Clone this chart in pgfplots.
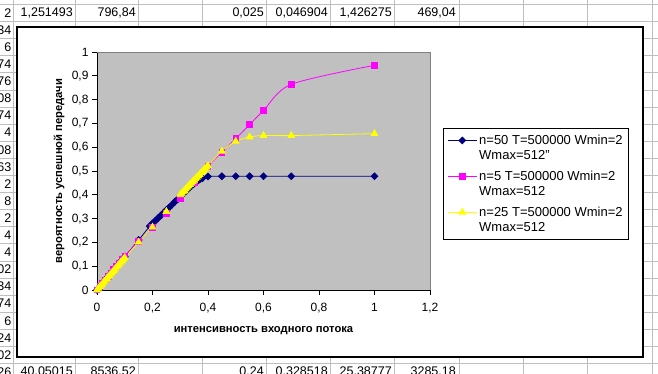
\documentclass[border=0pt]{standalone}
\usepackage{fontspec}
\setmainfont{Liberation Sans}
\usepackage{pgfplots}
\pgfplotsset{compat=1.18}
\definecolor{plotgray}{RGB}{192,192,192}
\definecolor{gridgray}{RGB}{190,190,190}
\definecolor{bordergray}{RGB}{128,128,128}
\definecolor{xnavy}{RGB}{0,0,128}
\definecolor{xmag}{RGB}{255,0,255}
\definecolor{xyel}{RGB}{255,255,0}
\newcommand\cellfont{\fontsize{12.5}{13}\selectfont}
\begin{document}
\begin{tikzpicture}[x=1pt,y=1pt]
\path[use as bounding box] (0pt,0pt) rectangle (658pt,374pt);
\fill[white] (0pt,0pt) rectangle (658pt,374pt);
% spreadsheet grid
\foreach \k in {0,...,21} {\draw[gridgray, line width=0.8pt] (0pt,{374pt-4.5pt-17.1pt*\k}) -- (658pt,{374pt-4.5pt-17.1pt*\k});}
\foreach \x in {13,75,138,202,266,330,394,459,523,587,652} {\draw[gridgray, line width=0.8pt] (\x pt,0pt) -- (\x pt,374pt);}
% left column fragments
\foreach \v [count=\i from 0] in {2,34,6,74,76,08,74,4,08,63,2,8,2,4,4,02,34,74,6,24,02,26}
  {\node[anchor=east, inner sep=0pt, font=\cellfont] at (11.5pt,{374pt-13pt-17.1pt*\i}) {\v};}
% top row
\node[anchor=east, inner sep=0pt, font=\cellfont] at (73pt,361pt) {1,251493};
\node[anchor=east, inner sep=0pt, font=\cellfont] at (136pt,361pt) {796,84};
\node[anchor=east, inner sep=0pt, font=\cellfont] at (264pt,361pt) {0,025};
\node[anchor=east, inner sep=0pt, font=\cellfont] at (328pt,361pt) {0,046904};
\node[anchor=east, inner sep=0pt, font=\cellfont] at (392pt,361pt) {1,426275};
\node[anchor=east, inner sep=0pt, font=\cellfont] at (456pt,361pt) {469,04};
% bottom row
\node[anchor=east, inner sep=0pt, font=\cellfont] at (73pt,2pt) {40,05015};
\node[anchor=east, inner sep=0pt, font=\cellfont] at (136pt,2pt) {8536,52};
\node[anchor=east, inner sep=0pt, font=\cellfont] at (264pt,2pt) {0,24};
\node[anchor=east, inner sep=0pt, font=\cellfont] at (328pt,2pt) {0,328518};
\node[anchor=east, inner sep=0pt, font=\cellfont] at (392pt,2pt) {25,38777};
\node[anchor=east, inner sep=0pt, font=\cellfont] at (456pt,2pt) {3285,18};
% chart frame
\draw[black, line width=1.3pt, fill=white] (17pt,347pt) rectangle (643pt,17pt);
\begin{axis}[
  at={(97pt,84pt)}, anchor=south west, scale only axis,
  width=333pt, height=238pt,
  xmin=0, xmax=1.2, ymin=0, ymax=1,
  axis lines=left, axis line style={-, line width=0.8pt, black},
  axis background/.style={fill=plotgray},
  xtick={0,0.2,0.4,0.6,0.8,1,1.2},
  ytick={0,0.1,0.2,0.3,0.4,0.5,0.6,0.7,0.8,0.9,1},
  tick align=outside, major tick length=5pt,
  tick style={black, line width=0.8pt},
  /pgf/number format/use comma,
  /pgf/number format/assume math mode=true,
  ticklabel style={font=\fontsize{12}{12}\selectfont},
  xticklabel style={yshift=-5pt},
  xlabel={интенсивность входного потока},
  ylabel={вероятность успешной передачи},
  label style={font=\fontsize{11.2}{12}\selectfont\bfseries},
  x label style={at={([yshift=-41pt]axis description cs:0.5,0)}, anchor=center},
  y label style={at={([xshift=-38pt]axis description cs:0,0.5)}, anchor=center},
  clip=false,
  legend style={at={(rel axis cs:1.039,0.68)}, anchor=north west,
    draw=black, line width=0.8pt, fill=white,
    font=\fontsize{13}{14.5}\selectfont,
    cells={anchor=base west, align=left, inner xsep=1pt, inner ysep=1pt},
    inner xsep=4pt, inner ysep=5pt, row sep=6.5pt},
  legend image code/.code={\draw[mark repeat=2,mark phase=2,#1] plot coordinates {(0pt,19pt) (14.5pt,19pt) (29pt,19pt)};},
]
\draw[bordergray, line width=0.8pt] (rel axis cs:0,1) -- (rel axis cs:1,1) -- (rel axis cs:1,0);
% n=50
\addplot[xnavy, line width=0.8pt, smooth, mark=square*, mark size=2.4pt, mark options={rotate=45, fill=xnavy, draw=xnavy}] coordinates {
(0,0) (0.01,0.014) (0.02,0.028) (0.03,0.042) (0.04,0.056) (0.05,0.07) (0.06,0.084) (0.07,0.098) (0.08,0.112) (0.09,0.126) (0.1,0.14)
(0.15,0.21)
(0.19,0.268) (0.2,0.28) (0.21,0.291) (0.22,0.302) (0.23,0.313) (0.24,0.325) (0.25,0.336) (0.26,0.347) (0.27,0.358) (0.28,0.37) (0.29,0.381)
(0.3,0.393) (0.31,0.404) (0.32,0.415) (0.33,0.426) (0.34,0.437) (0.35,0.447) (0.36,0.456) (0.37,0.464) (0.38,0.47)
(0.4,0.477) (0.45,0.478) (0.5,0.478) (0.55,0.478) (0.6,0.478) (0.7,0.478) (1,0.478)
};
\addlegendentry{n=50 T=500000 Wmin=2\\Wmax=512"}
% n=5
\addplot[xmag, line width=0.8pt, smooth, mark=square*, mark size=2.8pt, mark options={fill=xmag, draw=xmag}] coordinates {
(0,0) (0.01,0.014) (0.02,0.029) (0.03,0.043) (0.04,0.057) (0.05,0.072) (0.06,0.086) (0.07,0.1) (0.08,0.114) (0.09,0.129) (0.1,0.143)
(0.15,0.204) (0.2,0.262) (0.25,0.323) (0.3,0.385) (0.35,0.45) (0.4,0.52) (0.45,0.579) (0.5,0.636) (0.55,0.695) (0.6,0.754) (0.7,0.864) (1,0.944)
};
\addlegendentry{n=5 T=500000 Wmin=2\\Wmax=512}
% n=25
\addplot[xyel, line width=0.8pt, smooth, mark=triangle*, mark size=3.8pt, mark options={fill=xyel, draw=xyel}] coordinates {
(0,0) (0.005,0.007) (0.01,0.014) (0.015,0.02) (0.02,0.027) (0.025,0.034) (0.03,0.041) (0.035,0.048) (0.04,0.054) (0.045,0.061) (0.05,0.068)
(0.055,0.075) (0.06,0.082) (0.065,0.088) (0.07,0.095) (0.075,0.102) (0.08,0.109) (0.085,0.116) (0.09,0.122) (0.095,0.129) (0.1,0.136)
(0.15,0.201) (0.2,0.264) (0.25,0.33)
(0.3,0.4) (0.305,0.406) (0.31,0.412) (0.315,0.418) (0.32,0.424) (0.325,0.431) (0.33,0.437) (0.335,0.443) (0.34,0.449) (0.345,0.455) (0.35,0.461)
(0.355,0.467) (0.36,0.473) (0.365,0.479) (0.37,0.485) (0.375,0.492) (0.38,0.498) (0.385,0.504) (0.39,0.51) (0.395,0.516) (0.4,0.522)
(0.45,0.583) (0.5,0.625) (0.55,0.643) (0.6,0.649) (0.7,0.649) (1,0.657)
};
\addlegendentry{n=25 T=500000 Wmin=2\\Wmax=512}
\end{axis}
\end{tikzpicture}
\end{document}
